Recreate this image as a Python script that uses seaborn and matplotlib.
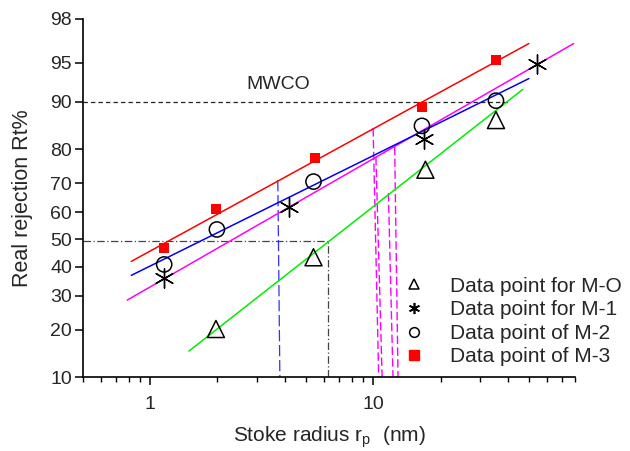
import numpy as np
import matplotlib
matplotlib.use("Agg")
import matplotlib.pyplot as plt
import seaborn as sns
from statistics import NormalDist
from matplotlib.ticker import NullLocator, NullFormatter, FixedLocator, FixedFormatter, LogLocator
from matplotlib.lines import Line2D

# ---------------- data ----------------
m0_x = [1.97, 5.39, 17.1, 35.4]
m0_y = [20.2, 43.4, 74.2, 86.7]
m1_x = [1.155, 4.17, 16.9, 54.0]
m1_y = [35.9, 61.7, 82.6, 94.9]
m2_x = [1.155, 1.99, 5.39, 16.5, 35.4]
m2_y = [40.8, 53.7, 70.5, 85.5, 90.2]
m3_x = [1.155, 1.97, 5.45, 16.5, 35.4]
m3_y = [47.0, 61.0, 77.7, 89.2, 95.3]

# fitted lines (end points)
fit0_x = [1.49, 46.7]
fit0_y = [14.9, 91.9]
fit1_x = [0.789, 78.9]
fit1_y = [28.6, 96.6]
fit2_x = [0.823, 49.7]
fit2_y = [36.9, 93.3]
fit3_x = [0.823, 49.7]
fit3_y = [41.9, 96.6]

# guide lines
mwco_x = [0.5, 40.9]
mwco_y = [90.0, 90.0]
half_h_x = [0.5, 6.23]
half_h_y = [49.5, 49.5]
half_v_x = [6.23, 6.23]
half_v_y = [10.0, 49.5]
blue_v_x = [3.73, 3.81]
blue_v_y = [71.0, 10.0]
mag_v_top_x = [9.97, 10.26, 11.67, 12.45]
mag_v_top_y = [85.0, 77.9, 66.7, 80.6]
mag_v_bot_x = [10.56, 10.94, 12.24, 12.89]

ytick_vals = [10, 20, 30, 40, 50, 60, 70, 80, 90, 95, 98]
ytick_labels = ["10", "20", "30", "40", "50", "60", "70", "80", "90", "95", "98"]
xtick_vals = [1, 10]
xtick_labels = ["1", "10"]
legend_labels = ["Data point for M-O", "Data point for M-1",
                 "Data point of M-2", "Data point of M-3"]

# ---------------- style ----------------
sns.set_style("ticks")
plt.rcParams["font.family"] = ["Liberation Sans", "DejaVu Sans"]
plt.rcParams["mathtext.fontset"] = "custom"
plt.rcParams["mathtext.rm"] = "Liberation Sans"
plt.rcParams["mathtext.it"] = "Liberation Sans:italic"

_nd = NormalDist()


def _fwd(p):
    p = np.clip(np.asarray(p, dtype=float), 1e-4, 100 - 1e-4)
    return np.vectorize(lambda v: _nd.inv_cdf(v / 100.0), otypes=[float])(p)


def _inv(z):
    z = np.clip(np.asarray(z, dtype=float), -30, 30)
    return np.vectorize(lambda v: 100.0 * _nd.cdf(v), otypes=[float])(z)


fig = plt.figure(figsize=(6.3, 4.51), dpi=100)
ax = fig.add_axes([83 / 630, 1 - 377 / 451, (575 - 83) / 630, (377 - 19) / 451])
ax.set_xscale("log")
ax.set_yscale("function", functions=(_fwd, _inv))
ax.set_xlim(0.5, 80)
ax.set_ylim(10, 98)

# guide lines
ax.plot(mwco_x, mwco_y, color="#222222", lw=0.9, dashes=(3.5, 2.5))
ax.plot(half_h_x, half_h_y, color="#444444", lw=0.9, dashes=(6, 2, 1, 2))
ax.plot(half_v_x, half_v_y, color="#444444", lw=0.9, dashes=(6, 2, 1, 2))
ax.plot(blue_v_x, blue_v_y, color="#3030ff", lw=0.9, dashes=(9, 3))
for xt, yt, xb in zip(mag_v_top_x, mag_v_top_y, mag_v_bot_x):
    ax.plot([xt, xb], [yt, 10.0], color="#ff00ff", lw=1.0, dashes=(6, 2.5))

# fitted lines
sns.lineplot(x=fit0_x, y=fit0_y, ax=ax, color="#00ee00", lw=1.1, sort=False)
sns.lineplot(x=fit1_x, y=fit1_y, ax=ax, color="#ff00ff", lw=1.1, sort=False)
sns.lineplot(x=fit2_x, y=fit2_y, ax=ax, color="#0000ff", lw=1.1, sort=False)
sns.lineplot(x=fit3_x, y=fit3_y, ax=ax, color="#ff0000", lw=1.1, sort=False)

# data points
sns.scatterplot(x=m0_x, y=m0_y, ax=ax, marker="^", s=150,
                facecolor="none", edgecolor="black", linewidth=1.1, zorder=5)
sns.scatterplot(x=m1_x, y=m1_y, ax=ax, marker=(6, 2, 0), s=190,
                color="black", linewidth=1.0, zorder=5)
sns.scatterplot(x=m2_x, y=m2_y, ax=ax, marker="o", s=120,
                facecolor="none", edgecolor="black", linewidth=1.1, zorder=5)
sns.scatterplot(x=m3_x, y=m3_y, ax=ax, marker="s", s=45,
                color="#ff0000", edgecolor="#ff0000", linewidth=0, zorder=5)

ax.text(3.73, 92.5, "MWCO", ha="center", va="center", fontsize=14)

# axes / ticks
ax.yaxis.set_major_locator(FixedLocator(ytick_vals))
ax.yaxis.set_major_formatter(FixedFormatter(ytick_labels))
ax.yaxis.set_minor_locator(NullLocator())
ax.xaxis.set_major_locator(FixedLocator(xtick_vals))
ax.xaxis.set_major_formatter(FixedFormatter(xtick_labels))
ax.xaxis.set_minor_locator(LogLocator(base=10, subs=np.arange(2, 10)))
ax.xaxis.set_minor_formatter(NullFormatter())
ax.tick_params(axis="both", which="major", direction="out", length=6,
               width=1.1, labelsize=14, color="black")
ax.tick_params(axis="y", which="major", pad=2)
ax.tick_params(axis="x", which="major", pad=8)
ax.tick_params(axis="x", which="minor", direction="out", length=3.5,
               width=1.0, color="black")
for side in ["top", "right"]:
    ax.spines[side].set_visible(False)
for side in ["left", "bottom"]:
    ax.spines[side].set_linewidth(1.2)
    ax.spines[side].set_color("black")

ax.set_xlabel(r"Stoke radius r$_\mathrm{p}$  (nm)", fontsize=15, labelpad=8)
ax.set_ylabel("Real rejection Rt%", fontsize=15.5, labelpad=12)

handles = [
    Line2D([], [], ls="none", marker="^", ms=7, mfc="none", mec="black", mew=1.1),
    Line2D([], [], ls="none", marker=(6, 2, 0), ms=8, color="black", mew=1.2),
    Line2D([], [], ls="none", marker="o", ms=7, mfc="none", mec="black", mew=1.1),
    Line2D([], [], ls="none", marker="s", ms=7, mfc="#ff0000", mec="#ff0000"),
]
ax.legend(handles, legend_labels, loc="center left",
          bbox_to_anchor=(0.652, 0.155), frameon=False, fontsize=15,
          handlelength=1.0, handletextpad=1.2, labelspacing=0.22,
          borderaxespad=0, borderpad=0)

fig.savefig("out.png", dpi=100)
